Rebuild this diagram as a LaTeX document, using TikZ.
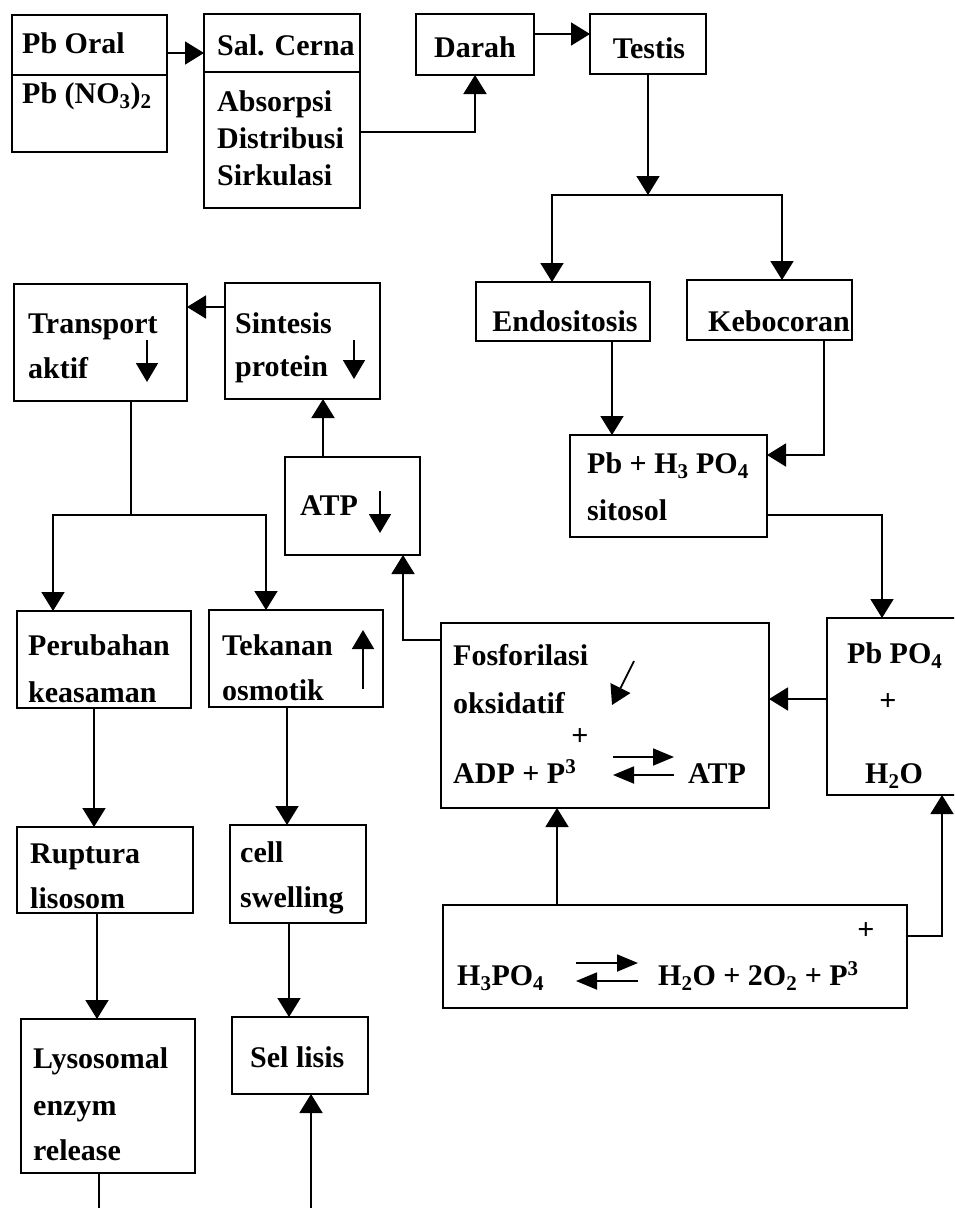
\documentclass[tikz,border=0pt]{standalone}
\usepackage{fontspec}
\setmainfont{Liberation Serif}
\usetikzlibrary{arrows.meta}
\begin{document}
\begin{tikzpicture}[x=1pt,y=-1pt,
  boxst/.style={draw, line width=1.8pt, anchor=north west, inner sep=0pt, outer sep=0pt},
  txt/.style={font=\fontsize{30}{36}\selectfont\bfseries, inner sep=0pt, anchor=base west},
  ctxt/.style={txt, anchor=base},
  plus/.style={font=\fontsize{30}{36}\selectfont\bfseries, inner sep=0pt, anchor=center},
  conn/.style={line width=1.8pt},
  arr/.style={conn, -{Triangle[length=19pt,width=23pt]}},
  glyph/.style={line width=1.8pt, -{Triangle[length=19pt,width=22pt]}},
  eq/.style={line width=1.8pt, -{Triangle[length=21pt,width=17pt]}}]
\useasboundingbox (0,0) rectangle (954,1208);
\clip (0,0) rectangle (954,1208);

% ---------- boxes ----------
\node[boxst, minimum width=155pt, minimum height=137pt] (A) at (12,15) {};
\node[boxst, minimum width=156pt, minimum height=194pt] (B) at (204,14) {};
\node[boxst, minimum width=118pt, minimum height=61pt]  (C) at (416,14) {};
\node[boxst, minimum width=116pt, minimum height=60pt]  (D) at (590,14) {};
\node[boxst, minimum width=174pt, minimum height=59pt]  (E) at (476,282) {};
\node[boxst, minimum width=165pt, minimum height=60pt]  (F) at (687,280) {};
\node[boxst, minimum width=197pt, minimum height=102pt] (G) at (570,435) {};
\node[boxst, minimum width=150pt, minimum height=177pt] (H) at (827,618) {};
\node[boxst, minimum width=328pt, minimum height=185pt] (I) at (441,623) {};
\node[boxst, minimum width=135pt, minimum height=98pt]  (J) at (285,457) {};
\node[boxst, minimum width=155pt, minimum height=116pt] (K) at (225,283) {};
\node[boxst, minimum width=173pt, minimum height=117pt] (L) at (14,284) {};
\node[boxst, minimum width=174pt, minimum height=97pt]  (M) at (17,611) {};
\node[boxst, minimum width=174pt, minimum height=97pt]  (N) at (209,610) {};
\node[boxst, minimum width=176pt, minimum height=86pt]  (O) at (17,827) {};
\node[boxst, minimum width=136pt, minimum height=98pt]  (P) at (230,825) {};
\node[boxst, minimum width=174pt, minimum height=154pt] (Q) at (21,1019) {};
\node[boxst, minimum width=136pt, minimum height=77pt]  (R) at (232,1017) {};
\node[boxst, minimum width=464pt, minimum height=103pt] (S) at (443,905) {};

% dividers
\draw[conn] (A.west |- 0,75) -- (A.east |- 0,75);
\draw[conn] (B.west |- 0,72) -- (B.east |- 0,72);

% ---------- texts ----------
\node[txt] (tA1) at (22,53) {Pb Oral};
\node[txt] (tA2) at (22,103) {Pb (NO\textsubscript{3})\textsubscript{2}};
\node[txt] (tB1) at (217,55) {Sal. Cerna};
\node[txt] (tB2) at (217,111) {Absorpsi};
\node[txt] (tB3) at (217,148) {Distribusi};
\node[txt] (tB4) at (217,185) {Sirkulasi};
\node[ctxt] (tC) at (475,57) {Darah};
\node[ctxt] (tD) at (649,58) {Testis};
\node[ctxt] (tE) at (565,331) {Endositosis};
\node[txt] (tF) at (708,331) {Kebocoran};
\node[txt] (tG1) at (587,473) {Pb + H\textsubscript{3} PO\textsubscript{4}};
\node[txt] (tG2) at (587,520) {sitosol};
\node[txt] (tH1) at (847,663) {Pb PO\textsubscript{4}};
\node[plus] (tH2) at (888,702) {+};
\node[txt] (tH3) at (865,783) {H\textsubscript{2}O};
\node[txt] (tI1) at (453,665) {Fosforilasi};
\node[txt] (tI2) at (453,713) {oksidatif};
\node[plus] (tI3) at (580,737) {+};
\node[txt] (tI4) at (453,783) {ADP + P\textsuperscript{3}};
\node[txt] (tI5) at (688,783) {ATP};
\node[txt] (tJ) at (300,515) {ATP};
\node[txt] (tK1) at (235,333) {Sintesis};
\node[txt] (tK2) at (235,376) {protein};
\node[txt] (tL1) at (28,333) {Transport};
\node[txt] (tL2) at (28,378) {aktif};
\node[txt] (tM1) at (28,655) {Perubahan};
\node[txt] (tM2) at (28,702) {keasaman};
\node[txt] (tN1) at (222,655) {Tekanan};
\node[txt] (tN2) at (222,700) {osmotik};
\node[txt] (tO1) at (30,863) {Ruptura};
\node[txt] (tO2) at (30,908) {lisosom};
\node[txt] (tP1) at (240,862) {cell};
\node[txt] (tP2) at (240,907) {swelling};
\node[txt] (tQ1) at (33,1068) {Lysosomal};
\node[txt] (tQ2) at (33,1115) {enzym};
\node[txt] (tQ3) at (33,1160) {release};
\node[txt] (tR) at (250,1067) {Sel lisis};
\node[txt] (tS1) at (457,985) {H\textsubscript{3}PO\textsubscript{4}};
\node[txt] (tS2) at (658,985) {H\textsubscript{2}O + 2O\textsubscript{2} + P\textsuperscript{3}};
\node[plus] (tS3) at (866,931) {+};

% ---------- small arrow glyphs inside boxes ----------
\draw[glyph] (147,340) -- (147,382);
\draw[glyph] (354,340) -- (354,379);
\draw[glyph] (380,491) -- (380,533);
\draw[glyph] (363,689) -- (363,630);
\draw[glyph] (634,661) -- (612,705);
\draw[eq] (613,757) -- (674,757);
\draw[eq] (674,775) -- (613,775);
\draw[eq] (576,963) -- (638,963);
\draw[eq] (638,981) -- (576,981);

% ---------- connectors ----------
\coordinate (dsplit) at (648,195);
\coordinate (lsplit) at (131,515);
\coordinate (qend) at (99,1215);
\coordinate (rstart) at (311,1215);

\draw[arr] (A.east |- 0,53) -- (B.west |- 0,53);
\draw[arr] (B.east |- 0,132) -| (C.south);
\draw[arr] (C.east |- 0,34) -- (D.west |- 0,34);
\draw[arr] (D.south) -- (dsplit);
\draw[arr] (dsplit) -| (E.north -| 552,0);
\draw[arr] (dsplit) -| (F.north -| 782,0);
\draw[arr] (E.south -| 612,0) -- (G.north -| 612,0);
\draw[arr] (F.south -| 824,0) |- (G.east |- 0,455);
\draw[arr] (G.east |- 0,515) -| (H.north -| 882,0);
\draw[arr] (H.west |- 0,699) -- (I.east |- 0,699);
\draw[arr] (I.west |- 0,640) -| (J.south -| 403,0);
\draw[arr] (J.north -| 323,0) -- (K.south -| 323,0);
\draw[arr] (K.west |- 0,307) -- (L.east |- 0,307);
\draw[conn] (L.south -| 131,0) -- (lsplit);
\draw[arr] (lsplit) -| (M.north -| 53,0);
\draw[arr] (lsplit) -| (N.north -| 266,0);
\draw[arr] (M.south -| 94,0) -- (O.north -| 94,0);
\draw[arr] (N.south -| 287,0) -- (P.north -| 287,0);
\draw[arr] (O.south -| 97,0) -- (Q.north -| 97,0);
\draw[arr] (P.south -| 289,0) -- (R.north -| 289,0);
\draw[conn] (Q.south -| 99,0) -- (qend);
\draw[arr] (rstart) -- (R.south -| 311,0);
\draw[arr] (S.north -| 557,0) -- (I.south -| 557,0);
\draw[arr] (S.east |- 0,936) -| (H.south -| 942,0);
\end{tikzpicture}
\end{document}
